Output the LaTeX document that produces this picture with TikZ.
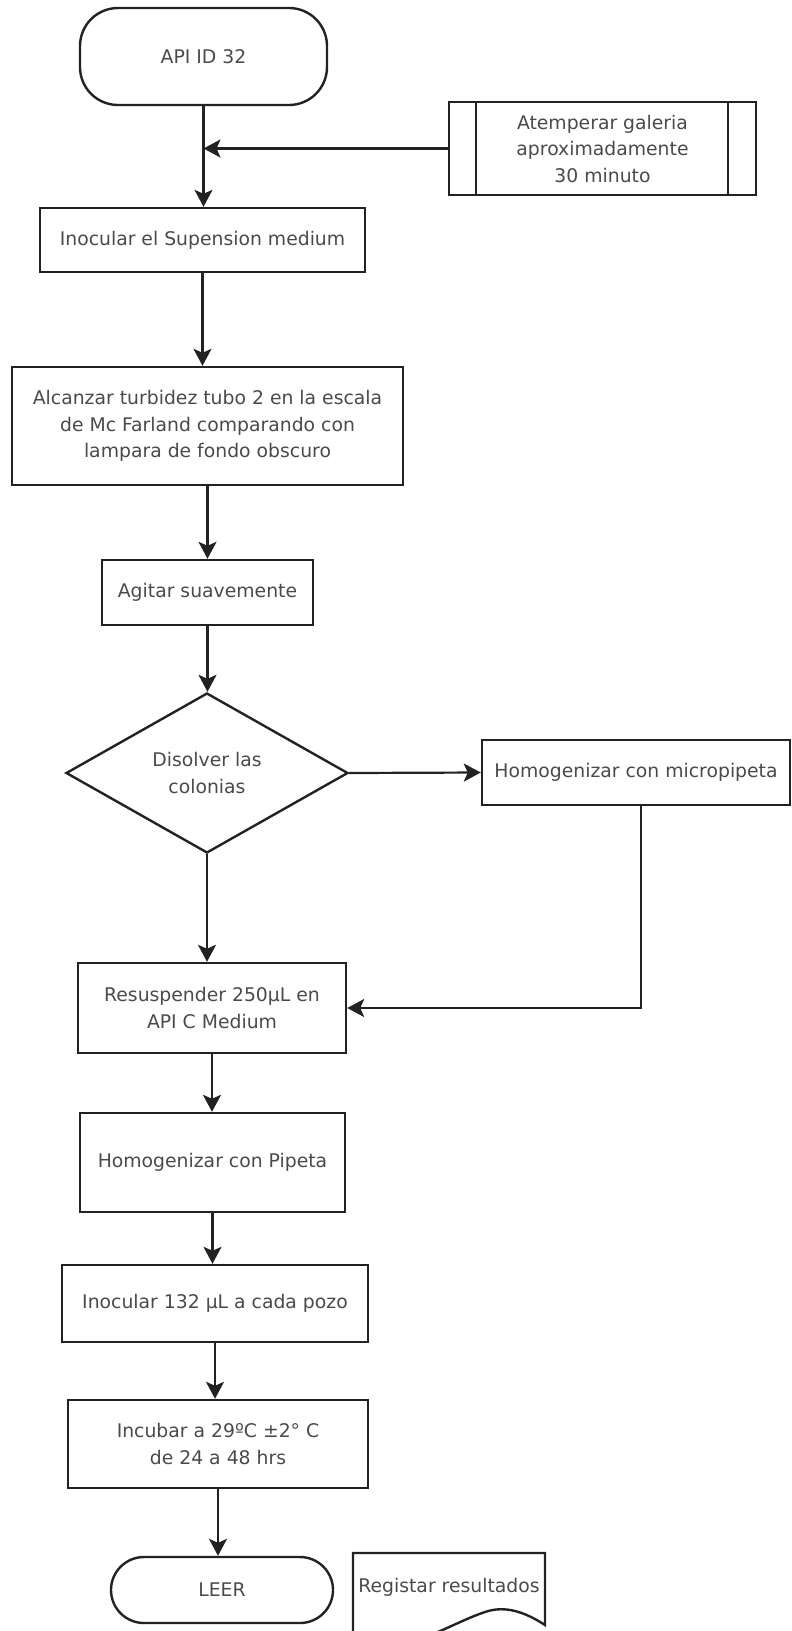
\documentclass[tikz,border=0pt]{standalone}
\usepackage{fontspec}
\setmainfont{DejaVu Sans}
\usetikzlibrary{shapes.geometric,arrows.meta}
\definecolor{ink}{HTML}{222222}
\definecolor{txt}{HTML}{4A4A4A}

\begin{document}
\begin{tikzpicture}[x=1pt,y=-1pt,
    every node/.style={font=\fontsize{18.8}{26.5}\selectfont,text=txt,align=center},
    proc/.style={draw=ink,line width=2.4pt,rectangle,inner sep=0pt},
    term/.style={proc,rounded corners=#1},
    flow/.style={draw=ink,line width=2.2pt,-{Stealth[length=17pt,width=18pt,inset=4pt]}}]
  \useasboundingbox (0,0) rectangle (792,1631);

  % main column
  \node[term=38pt,minimum width=247pt,minimum height=97pt] (api) at (203.5,56.5) {API ID 32};
  \node[proc,minimum width=307pt,minimum height=93pt] (atemp) at (602.5,148.5) {Atemperar galeria\\aproximadamente\\30 minuto};
  \draw[ink,line width=2.4pt] ([xshift=28pt]atemp.north west) -- ([xshift=28pt]atemp.south west);
  \draw[ink,line width=2.4pt] ([xshift=-29pt]atemp.north east) -- ([xshift=-29pt]atemp.south east);
  \node[proc,minimum width=325pt,minimum height=64pt] (inoc1) at (202.5,240) {Inocular el Supension medium};
  \node[proc,minimum width=391pt,minimum height=118pt] (alc) at (207.5,426) {Alcanzar turbidez tubo 2 en la escala\\de Mc Farland comparando con\\lampara de fondo obscuro};
  \node[proc,minimum width=211pt,minimum height=65pt] (agit) at (207.5,592.5) {Agitar suavemente};
  \node[draw=ink,line width=2.4pt,diamond,aspect=1.76,inner sep=0pt,minimum width=282pt,minimum height=160pt] (dis) at (207,773) {Disolver las\\colonias};
  \node[proc,minimum width=308pt,minimum height=65pt] (micro) at (636,772.5) {Homogenizar con micropipeta};
  \node[proc,minimum width=268pt,minimum height=90pt] (resus) at (212,1008) {Resuspender 250µL en\\API C Medium};
  \node[proc,minimum width=265pt,minimum height=99pt] (homp) at (212.5,1162.5) {Homogenizar con Pipeta};
  \node[proc,minimum width=306pt,minimum height=77pt] (inoc2) at (215,1303.5) {Inocular 132 µL a cada pozo};
  \node[proc,minimum width=300pt,minimum height=88pt] (incu) at (218,1444) {Incubar a 29ºC ±2° C\\de 24 a 48 hrs};
  \node[term=33pt,minimum width=222pt,minimum height=66pt] (leer) at (222,1590) {LEER};

  % document
  \node[inner sep=0pt] (reg) at (449,1587) {Registar resultados};
  \draw[ink,line width=2.4pt] (353,1645) -- (353,1553) -- (545,1553) -- (545,1625)
    .. controls (525,1612) and (505,1605) .. (485,1612)
    .. controls (455,1622) and (430,1640) .. (400,1642) -- (353,1645);

  % connectors
  \coordinate (join) at (api.south |- atemp.west);
  \draw[flow] (api.south) -- (api.south |- inoc1.north);
  \draw[flow] (atemp.west) -- (join);
  \draw[flow] (inoc1.south) -- (inoc1.south |- alc.north);
  \draw[flow] (alc.south) -- (alc.south |- agit.north);
  \draw[flow] (agit.south) -- (agit.south |- dis.north);
  \draw[flow] (dis.east) -- (micro.west);
  \draw[flow] (dis.south) -- (dis.south |- resus.north);
  \draw[flow] ([xshift=5pt]micro.south) |- (resus.east);
  \draw[flow] (resus.south) -- (resus.south |- homp.north);
  \draw[flow] (homp.south) -- (homp.south |- inoc2.north);
  \draw[flow] (inoc2.south) -- (inoc2.south |- incu.north);
  \draw[flow] (incu.south) -- (incu.south |- leer.north);
\end{tikzpicture}
\end{document}
